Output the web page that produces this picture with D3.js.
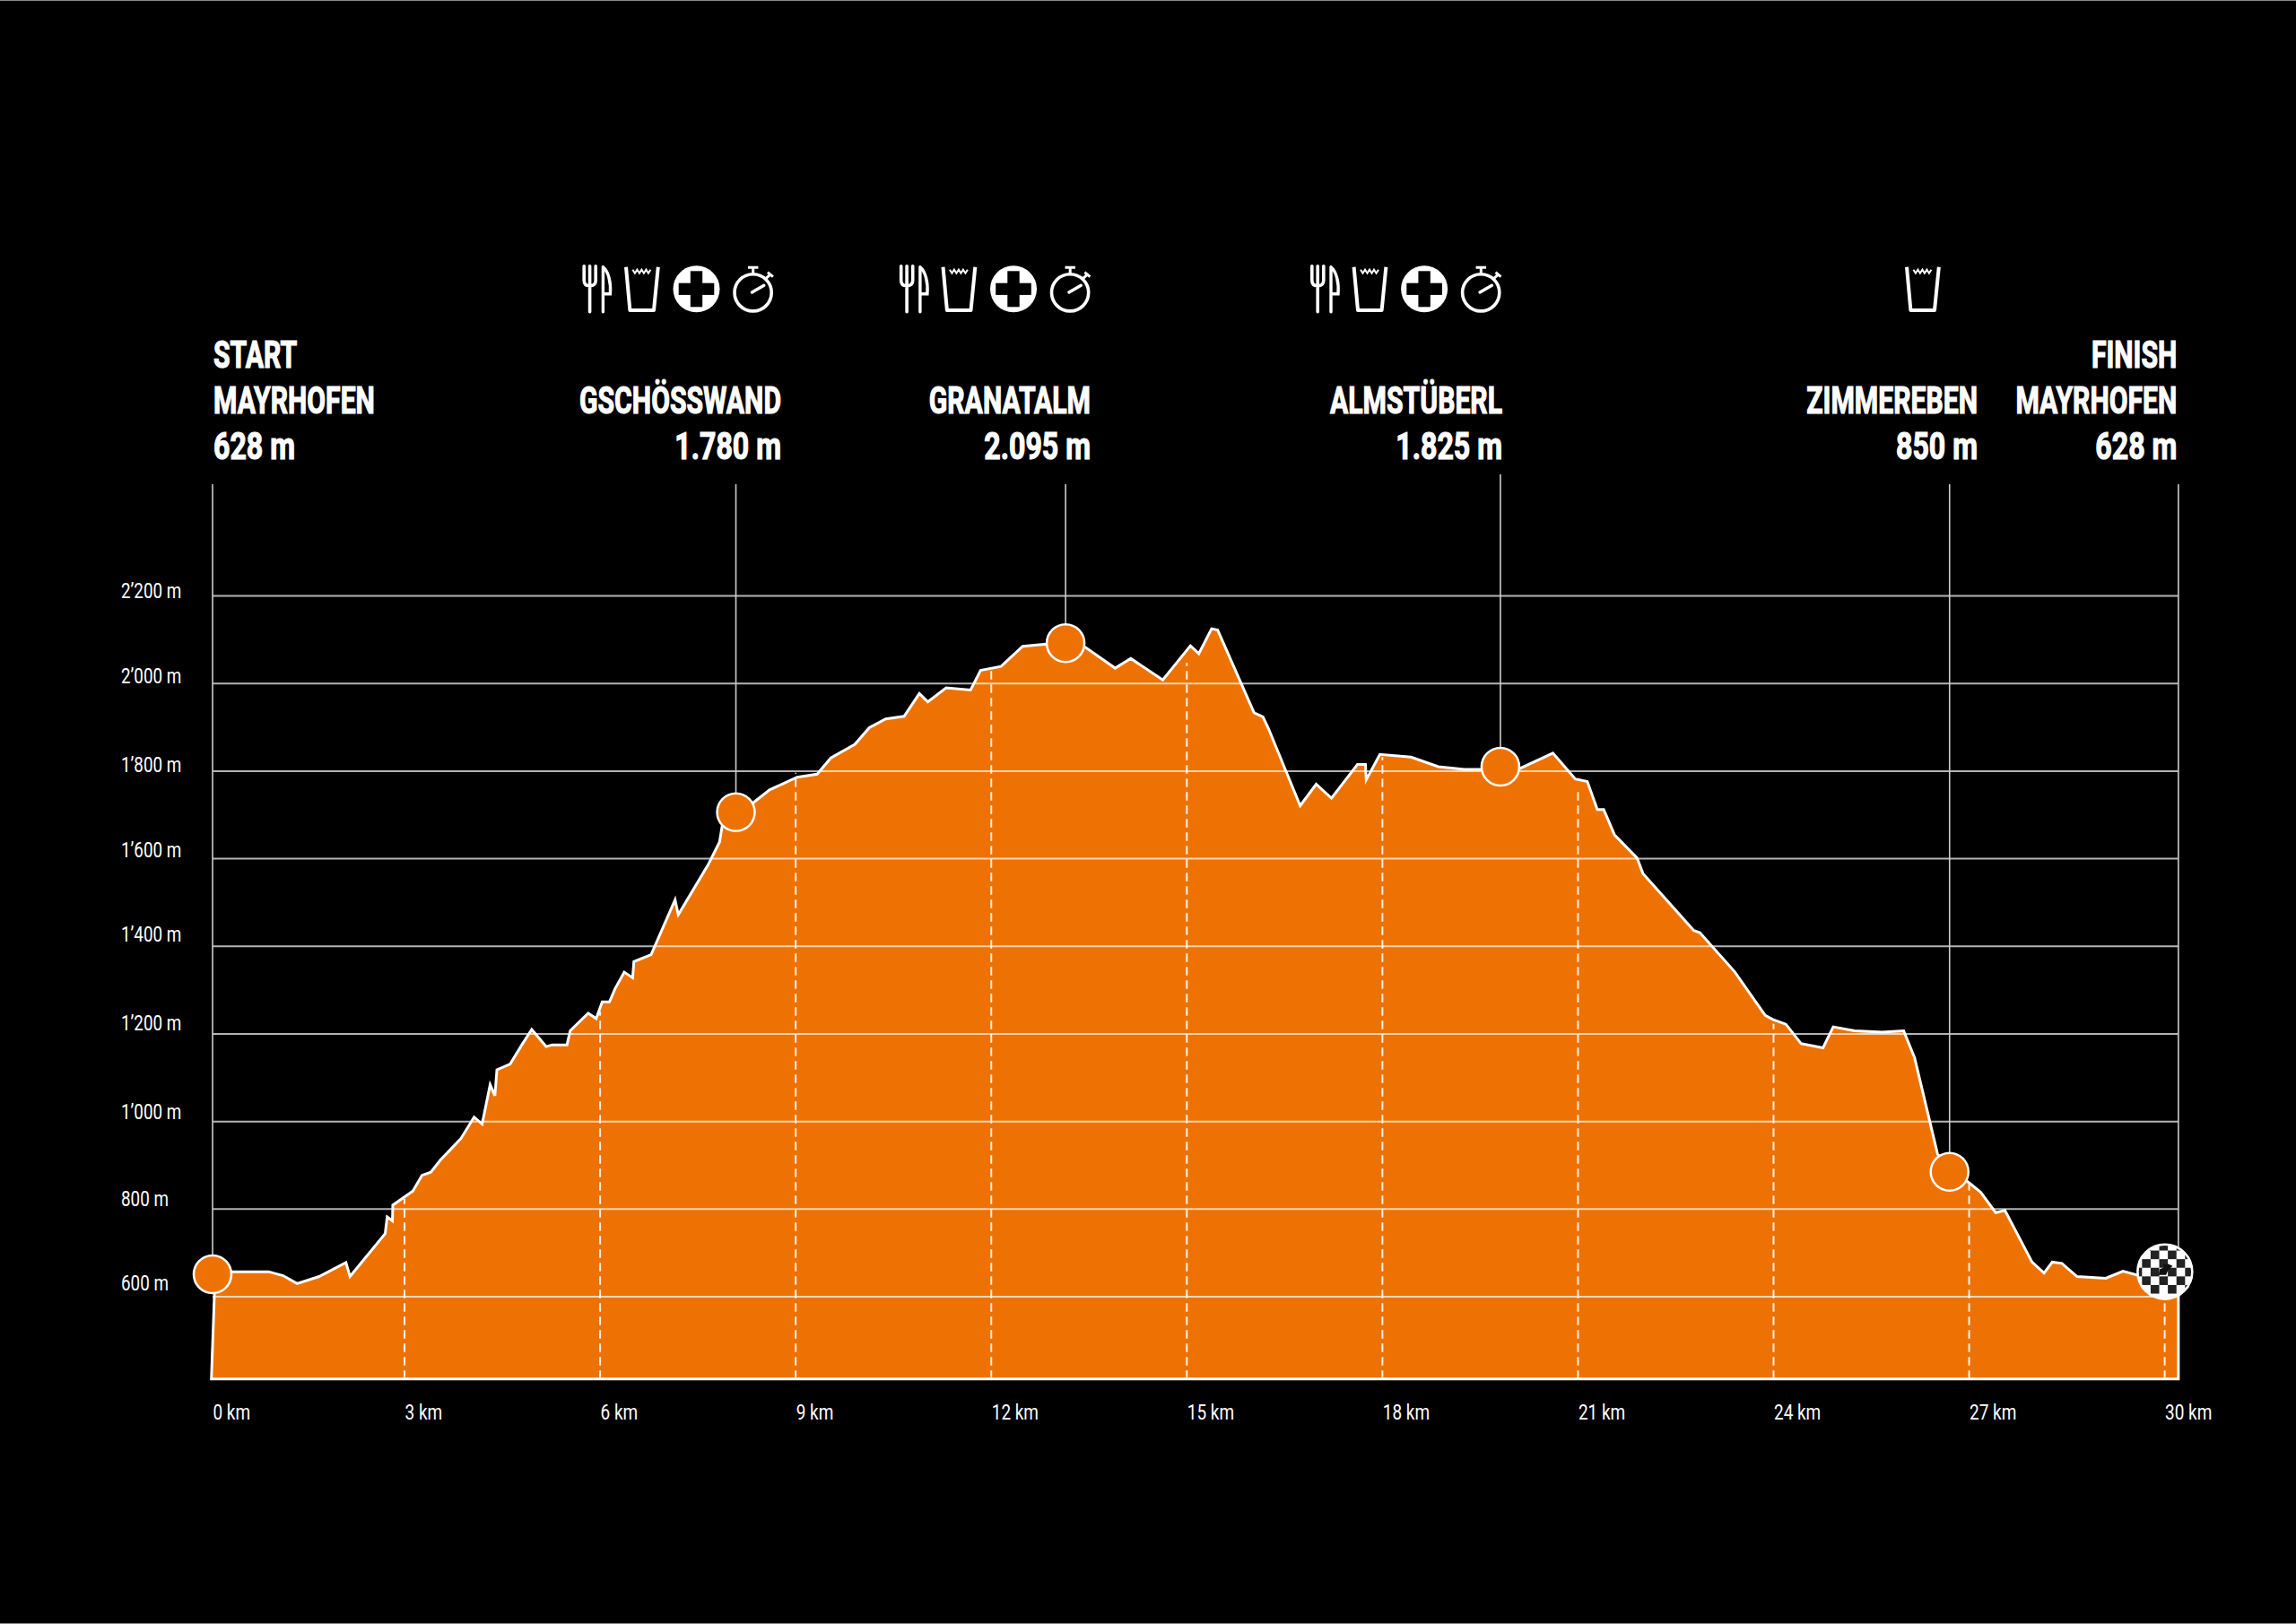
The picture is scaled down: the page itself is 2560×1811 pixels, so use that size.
<!DOCTYPE html>
<html>
<head>
<meta charset="utf-8">
<style>
  html, body { margin: 0; background: #000; }
  svg { display: block; }
  text { fill: #fff; font-family: "Roboto", sans-serif; }
</style>
<script src="https://cdn.jsdelivr.net/npm/d3@7"></script>
</head>
<body>
<svg width="2560" height="1811"></svg>
<script>
// elevation profile
const routeKm = [0.096, 0.363, 0.916, 1.137, 1.352, 1.69, 2.101, 2.163, 2.703, 2.734, 2.814, 2.82, 3.127, 3.268, 3.403, 3.545, 3.864, 4.067, 4.19, 4.313, 4.386, 4.417, 4.62, 4.804, 4.951, 5.172, 5.265, 5.492, 5.541, 5.817, 5.94, 6.032, 6.143, 6.229, 6.37, 6.499, 6.518, 6.782, 7.15, 7.199, 7.653, 7.832, 7.875, 8.36, 8.599, 9.023, 9.33, 9.539, 9.908, 10.129, 10.381, 10.663, 10.897, 11.026, 11.308, 11.683, 11.836, 12.15, 12.482, 12.844, 13.44, 13.9, 14.14, 14.631, 15.055, 15.184, 15.38, 15.473, 16.032, 16.167, 16.247, 16.739, 16.984, 17.218, 17.617, 17.74, 17.752, 17.961, 18.44, 18.858, 19.257, 19.503, 20.111, 20.615, 20.959, 21.143, 21.297, 21.395, 21.561, 21.905, 21.997, 22.777, 22.869, 23.403, 23.873, 23.989, 24.189, 24.421, 24.758, 24.916, 25.243, 25.664, 25.996, 26.164, 26.517, 26.991, 27.175, 27.407, 27.549, 27.965, 28.149, 28.276, 28.423, 28.655, 29.097, 29.36, 29.582, 30.0, 30.21];
const routeElev = [656, 656, 656, 647, 629, 645, 677, 645, 743, 781, 772, 808, 840, 876, 883, 910, 960, 1009, 993, 1083, 1058, 1117, 1130, 1175, 1209, 1170, 1174, 1174, 1206, 1246, 1234, 1272, 1272, 1302, 1340, 1327, 1364, 1380, 1505, 1471, 1584, 1637, 1676, 1728, 1756, 1785, 1792, 1829, 1860, 1898, 1918, 1924, 1976, 1957, 1989, 1984, 2029, 2038, 2084, 2089, 2082, 2034, 2056, 2007, 2085, 2067, 2124, 2121, 1932, 1923, 1898, 1720, 1769, 1737, 1814, 1814, 1779, 1837, 1831, 1809, 1803, 1803, 1805, 1840, 1781, 1775, 1711, 1711, 1653, 1601, 1565, 1435, 1430, 1341, 1241, 1232, 1221, 1177, 1167, 1215, 1206, 1203, 1206, 1144, 924, 860, 838, 791, 796, 678, 653, 678, 675, 645, 641, 657, 648, 655, 650];
const baseElev = 411;
const baseKmLeft = 0.037;

const yTicks = [600, 800, 1000, 1200, 1400, 1600, 1800, 2000, 2200];
const yTickLabels = ["600 m", "800 m", "1’000 m", "1’200 m", "1’400 m", "1’600 m", "1’800 m", "2’000 m", "2’200 m"];
const xTicks = [0, 3, 6, 9, 12, 15, 18, 21, 24, 27, 30];
const xTickLabels = ["0 km", "3 km", "6 km", "9 km", "12 km", "15 km", "18 km", "21 km", "24 km", "27 km", "30 km"];

// dashed km markers stop at these heights
const dashKm = [3, 6, 9, 12, 15, 18, 21, 24, 27, 30];
const dashTopElev = [822, 1250, 1795, 2030, 2046, 1831, 1762, 1222, 858, 640];

const stopKm = [0.055, 8.083, 13.14, 19.81, 26.7];
const stopElev = [650, 1705, 2091, 1809, 884];
const finishKm = 30.003;
const finishElev = 656;
const trackEndKm = 30.21;

const headLines = [
  ["START", "MAYRHOFEN", "628 m"],
  ["", "GSCHÖSSWAND", "1.780 m"],
  ["", "GRANATALM", "2.095 m"],
  ["", "ALMSTÜBERL", "1.825 m"],
  ["", "ZIMMEREBEN", "850 m"],
  ["FINISH", "MAYRHOFEN", "628 m"]
];

const orange = "#ee7203";
const svg = d3.select("svg");

svg.append("rect").attr("width", 2560).attr("height", 1811).attr("fill", "#000");
svg.append("rect").attr("width", 2560).attr("height", 1).attr("fill", "#8a8a8a");
svg.append("rect").attr("y", 1810).attr("width", 2560).attr("height", 1).attr("fill", "#8a8a8a");

const x = d3.scaleLinear().domain([0, 30]).range([233, 2413.6]);
const y = d3.scaleLinear().domain([600, 2200]).range([1445.5, 664]);

// area and outline
const route = routeKm.map((k, i) => [k, routeElev[i]]);
const outline = [[baseKmLeft, baseElev]].concat(route, [[trackEndKm, baseElev]]);
const line = d3.line().x(d => x(d[0])).y(d => y(d[1]));

svg.append("path")
  .attr("d", line(outline) + "Z")
  .attr("fill", orange);

// km dashes
svg.append("g").selectAll("line")
  .data(dashKm)
  .enter()
  .append("line")
  .attr("x1", d => x(d))
  .attr("x2", d => x(d))
  .attr("y1", y(baseElev))
  .attr("y2", (d, i) => y(dashTopElev[i]))
  .attr("stroke", "#fff")
  .attr("stroke-width", 2)
  .attr("stroke-dasharray", "9.5 5.5")
  .attr("opacity", 0.9);

// horizontal grid plus labels
const yLabelNudge = { 600: -7.5, 800: -3.5, 1000: -2.3, 1200: -3.7, 1400: -5, 1600: -1.6, 1800: 1.6, 2000: 0, 2200: 2.7 };
const yAxis = svg.append("g")
  .attr("transform", "translate(237,0)")
  .call(d3.axisRight(y)
    .tickValues(yTicks)
    .tickSize(2192)
    .tickFormat((d, i) => yTickLabels[i]));
yAxis.select(".domain").remove();
yAxis.selectAll("line")
  .attr("stroke", "#fff")
  .attr("stroke-opacity", 0.7)
  .attr("stroke-width", 2);
yAxis.selectAll("text")
  .attr("text-anchor", "start")
  .attr("font-size", 24)
  .attr("dy", 0)
  .attr("x", 0)
  .attr("y", 0)
  .attr("transform", d => "translate(-102," + yLabelNudge[d] + ") scale(0.785,1)");

// bottom labels
const xAxis = svg.append("g")
  .attr("transform", "translate(0," + y(baseElev) + ")")
  .call(d3.axisBottom(x)
    .tickValues(xTicks)
    .tickSize(0)
    .tickFormat((d, i) => xTickLabels[i]));
xAxis.select(".domain").remove();
xAxis.selectAll("text")
  .attr("text-anchor", "start")
  .attr("font-size", 24)
  .attr("dy", 0)
  .attr("x", 0)
  .attr("y", 0)
  .attr("transform", d => "translate(" + (d === 0 ? 4 : 0) + ",45) scale(0.79,1)");

// route outline on top of the grid
svg.append("path")
  .attr("d", line(outline) + "Z")
  .attr("fill", "none")
  .attr("stroke", "#fff")
  .attr("stroke-width", 3);

// leader lines
const leaderTop = [540, 540, 540, 529, 540];
svg.append("g").selectAll("line")
  .data(stopKm)
  .enter()
  .append("line")
  .attr("x1", d => x(d))
  .attr("x2", d => x(d))
  .attr("y1", (d, i) => leaderTop[i])
  .attr("y2", (d, i) => y(stopElev[i]))
  .attr("stroke", "#ccc")
  .attr("stroke-width", 1.6);
svg.append("line")
  .attr("x1", x(trackEndKm)).attr("x2", x(trackEndKm))
  .attr("y1", 540).attr("y2", y(650))
  .attr("stroke", "#ccc")
  .attr("stroke-width", 1.6);

// stop markers
svg.append("g").selectAll("circle")
  .data(stopKm)
  .enter()
  .append("circle")
  .attr("cx", d => x(d))
  .attr("cy", (d, i) => y(stopElev[i]))
  .attr("r", 21)
  .attr("fill", orange)
  .attr("stroke", "#fff")
  .attr("stroke-width", 2.5);

// finish flag
const fx = x(finishKm), fy = y(finishElev), cell = 9.6;
svg.append("clipPath").attr("id", "flag")
  .append("circle").attr("cx", fx).attr("cy", fy).attr("r", 29.5);
svg.append("circle").attr("cx", fx).attr("cy", fy).attr("r", 30).attr("fill", "#fff");
const flag = svg.append("g").attr("clip-path", "url(#flag)");
d3.range(-4, 4).forEach(row => {
  d3.range(-4, 4).forEach(col => {
    if ((row + col + 8) % 2 === 0) {
      flag.append("rect")
        .attr("x", fx - 6.3 + col * cell)
        .attr("y", fy - 14 + row * cell)
        .attr("width", cell)
        .attr("height", cell)
        .attr("fill", "#222");
    }
  });
});
flag.append("path")
  .attr("transform", "translate(" + fx + "," + fy + ")")
  .attr("d", "M-5.7,-3L-1.3,-4.7L-2,-8L3.7,-8.7L8.7,-6.3L3.7,-2L1.3,3.7L-7,3.7Z")
  .attr("fill", "#111");
svg.append("circle").attr("cx", fx).attr("cy", fy).attr("r", 30.5)
  .attr("fill", "none").attr("stroke", "#fff").attr("stroke-width", 2.5);

// header text, height lines run a bit wider than the names
const headX = [238, 871, 1216, 1675, 2205, 2427.3];
const headBase = [410, 461, 512];
const headScale = [0.71, 0.71, 0.755];
headLines.forEach((lines, i) => {
  lines.forEach((t, j) => {
    if (!t) return;
    svg.append("text")
      .attr("transform", "translate(" + headX[i] + "," + headBase[j] + ") scale(" + headScale[j] + ",1)")
      .attr("text-anchor", i === 0 ? "start" : "end")
      .attr("font-size", 42.5)
      .attr("font-weight", 700)
      .attr("stroke", "#fff")
      .attr("stroke-width", 1.2)
      .text(t);
  });
});

// icons
function drawFork(g) {
  g.append("path").attr("d", "M1.8,0V16Q1.8,22 8.2,22Q14.8,22 14.8,16V0M8.2,0V51")
    .attr("fill", "none").attr("stroke", "#fff").attr("stroke-width", 3.6).attr("stroke-linecap", "round");
  g.append("path").attr("d", "M23,1V51M23,1C29,6 32,18 31,31L24,31")
    .attr("fill", "none").attr("stroke", "#fff").attr("stroke-width", 3.4).attr("stroke-linecap", "round");
}
function drawGlass(g) {
  g.append("path").attr("d", "M48.6,1L53,49.3H79.6L84.4,1")
    .attr("fill", "none").attr("stroke", "#fff").attr("stroke-width", 4).attr("stroke-linejoin", "round");
  g.append("path").attr("d", "M56,4l2.5,4 2.5,-4 2.5,4 2.5,-4 2.5,4 2.5,-4 2.5,4 2.5,-4")
    .attr("fill", "none").attr("stroke", "#fff").attr("stroke-width", 2);
}
function drawCross(g) {
  g.append("circle").attr("cx", 127.1).attr("cy", 25.6).attr("r", 26).attr("fill", "#fff");
  g.append("rect").attr("x", 107.3).attr("y", 19).attr("width", 39.6).attr("height", 13.2).attr("fill", "#000");
  g.append("rect").attr("x", 120.4).attr("y", 5.6).attr("width", 13.4).attr("height", 40).attr("fill", "#000");
}
function drawWatch(g) {
  g.append("circle").attr("cx", 190.2).attr("cy", 29.6).attr("r", 20.6)
    .attr("fill", "none").attr("stroke", "#fff").attr("stroke-width", 3.6);
  g.append("path").attr("d", "M189,29.3L202.4,21.6")
    .attr("stroke", "#fff").attr("stroke-width", 3.4).attr("stroke-linecap", "round");
  g.append("path").attr("d", "M184.6,1.5H196M190.3,1.5V8M204.5,14L210,9M206.5,7L212.5,12")
    .attr("fill", "none").attr("stroke", "#fff").attr("stroke-width", 3);
}
[649.4, 1002.9, 1461].forEach(ox => {
  const g = svg.append("g").attr("transform", "translate(" + ox + ",296.7)");
  drawFork(g);
  drawGlass(g);
  drawCross(g);
  drawWatch(g);
});
drawGlass(svg.append("g").attr("transform", "translate(2077.4,296.7)"));
</script>
</body>
</html>
